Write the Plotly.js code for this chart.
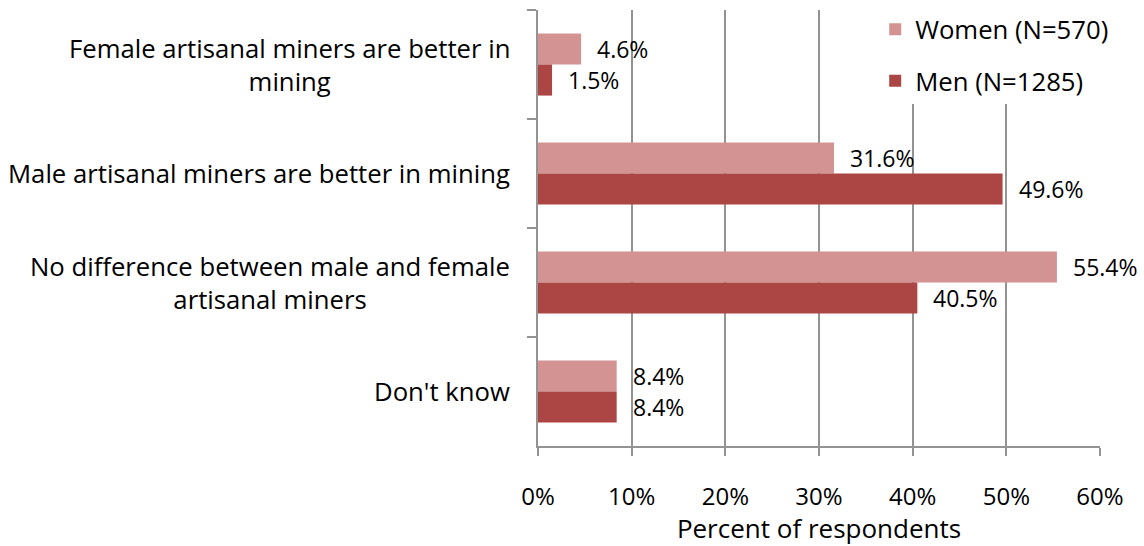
<!DOCTYPE html>
<html>
<head>
<meta charset="utf-8">
<script src="https://cdn.plot.ly/plotly-3.0.1.min.js"></script>
<style>html,body{margin:0;padding:0;background:#fff;}#chart{width:1144px;height:546px;}</style>
</head>
<body>
<div id="chart"></div>
<script>
const categories = [
  "Female artisanal miners are better in<br>mining",
  "Male artisanal miners are better in mining",
  "No difference between male and female<br>artisanal miners",
  "Don't know"
];
const women = [4.6, 31.6, 55.4, 8.4];
const men = [1.5, 49.6, 40.5, 8.4];
const seriesNames = ["Women (N=570)", "Men (N=1285)"];
const xTicks = [0, 10, 20, 30, 40, 50, 60];
const xTickLabels = ["0%", "10%", "20%", "30%", "40%", "50%", "60%"];

const FONT = "'Open Sans', sans-serif";
const FS_CAT = 25.7;
const FS_LEG = 25.7;
const FS_VAL = 23;
const FS_TICK = 24;
const FS_TITLE = 26;
const colW = "#D39392";
const colM = "#AB4644";
const axisCol = "#939393";

const traces = [
  {type: "bar", orientation: "h", name: seriesNames[0], y: categories, x: women,
   marker: {color: colW}, legendgroup: "w", hoverinfo: "x+y"},
  {type: "bar", orientation: "h", name: seriesNames[1], y: categories, x: men,
   marker: {color: colM}, legendgroup: "m", hoverinfo: "x+y"}
];

const annotations = [];
categories.forEach((c, i) => {
  annotations.push({xref: "paper", yref: "y", x: 0, y: c, xanchor: "right", yanchor: "middle",
    xshift: -26, text: c, showarrow: false, align: "center",
    font: {family: FONT, size: FS_CAT, color: "#000"}});
  annotations.push({xref: "x", yref: "y", x: women[i], y: c, xanchor: "left", yanchor: "middle",
    xshift: 14, yshift: 15.5, text: women[i].toFixed(1) + "%", showarrow: false,
    font: {family: FONT, size: FS_VAL, color: "#000"}});
  annotations.push({xref: "x", yref: "y", x: men[i], y: c, xanchor: "left", yanchor: "middle",
    xshift: 14, yshift: -15.5, text: men[i].toFixed(1) + "%", showarrow: false,
    font: {family: FONT, size: FS_VAL, color: "#000"}});
});

const layout = {
  width: 1144, height: 546,
  margin: {l: 538, r: 44, t: 10, b: 100, pad: 0, autoexpand: false},
  paper_bgcolor: "#fff", plot_bgcolor: "#fff",
  font: {family: FONT, size: FS_CAT, color: "#000"},
  barmode: "group", bargap: 0.43, bargroupgap: 0,
  showlegend: true,
  legend: {x: 0.6, y: 1.009, xanchor: "left", yanchor: "top", bgcolor: "#fff",
    font: {family: FONT, size: FS_LEG, color: "#000"}, traceorder: "grouped", tracegroupgap: 15,
    itemclick: false},
  xaxis: {range: [0, 60], tickvals: xTicks, ticktext: xTickLabels,
    tickfont: {family: FONT, size: FS_TICK, color: "#000"},
    showgrid: true, gridcolor: axisCol, gridwidth: 2,
    showline: true, linecolor: axisCol, linewidth: 2,
    ticks: "outside", ticklen: 8, tickcolor: axisCol, tickwidth: 2,
    ticklabelstandoff: 20, zeroline: false, fixedrange: true, automargin: false,
    title: {text: "Percent of respondents", font: {family: FONT, size: FS_TITLE, color: "#000"}, standoff: 4}},
  yaxis: {type: "category", categoryorder: "array", categoryarray: categories,
    autorange: "reversed", showticklabels: false, showgrid: false,
    showline: true, linecolor: axisCol, linewidth: 2,
    ticks: "outside", ticklen: 9, tickcolor: axisCol, tickwidth: 2,
    tickson: "boundaries", zeroline: false, fixedrange: true, automargin: false},
  annotations: annotations
};

Plotly.newPlot("chart", traces, layout, {displayModeBar: false, staticPlot: true});
</script>
</body>
</html>
